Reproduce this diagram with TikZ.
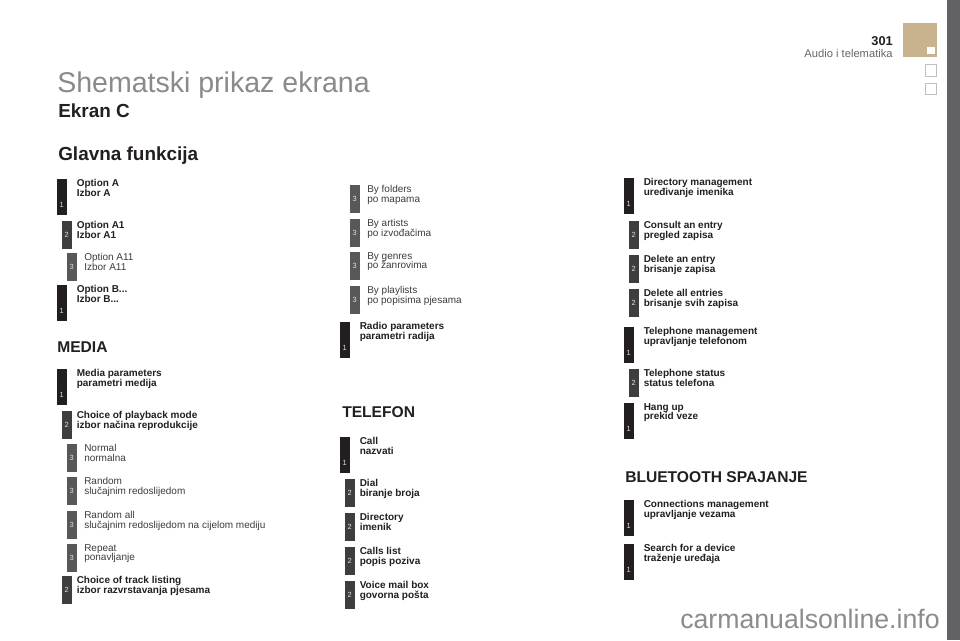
\documentclass[tikz,border=0pt]{standalone}
\usepackage{fontspec}
\setmainfont{Liberation Sans}
\definecolor{lone}{HTML}{231F20}
\definecolor{ltwo}{HTML}{3E3E40}
\definecolor{lthree}{HTML}{58585A}
\definecolor{txtdark}{HTML}{231F20}
\definecolor{txtgray}{HTML}{3C3C3E}
\definecolor{titlegray}{HTML}{8A8A8C}
\definecolor{tan}{HTML}{C8B38E}
\definecolor{sidebar}{HTML}{626264}
\tikzset{
  digit/.style={text=white!88!black, font=\fontsize{5.6}{6}\selectfont, inner sep=0pt},
  boldtxt/.style={text=txtdark, font=\fontsize{7.5}{7.35}\bfseries\selectfont, align=left, inner sep=0pt, anchor=north west},
  regtxt/.style={text=txtgray, font=\fontsize{7.5}{7.35}\selectfont, align=left, inner sep=0pt, anchor=north west},
  heading/.style={text=txtdark, font=\fontsize{11.7}{13}\bfseries\selectfont, inner sep=0pt, anchor=base west},
}
% #1 name, #2 x0, #3 top, #4 line 1, #5 line 2
\newcommand{\entA}[5]{%
  \fill[lone] (#2,#3) rectangle ++(9.5,36);
  \node[digit] (#1-d) at ({#2+4.75},{#3+26}) {1};
  \node[boldtxt] (#1) at ({#2+19.5},#3) {#4\\#5};
}
\newcommand{\entB}[5]{%
  \fill[ltwo] ({#2+5},#3) rectangle ++(9.5,27.5);
  \node[digit] (#1-d) at ({#2+9.75},{#3+14}) {2};
  \node[boldtxt] (#1) at ({#2+19.5},#3) {#4\\#5};
}
\newcommand{\entC}[5]{%
  \fill[lthree] ({#2+10},#3) rectangle ++(9.5,28);
  \node[digit] (#1-d) at ({#2+14.75},{#3+14}) {3};
  \node[regtxt] (#1) at ({#2+27},#3) {#4\\#5};
}
\begin{document}
\begin{tikzpicture}[x=0.75pt,y=-0.75pt]
\useasboundingbox (0,0) rectangle (960,640);
\fill[white] (0,0) rectangle (960,640);
% right side strip and page marks
\fill[sidebar] (947,0) rectangle (960,640);
\fill[tan] (903,23) rectangle (937,57);
\fill[white] (927,47) rectangle (935,54);
\draw[black!25, line width=0.6pt] (925.5,64.5) rectangle (936.5,76);
\draw[black!25, line width=0.6pt] (925.5,83) rectangle (936.5,94.5);
\node[anchor=base east, inner sep=0pt, font=\fontsize{9.6}{11}\bfseries\selectfont, text=txtdark] (pnum) at (893,45) {301};
\node[anchor=base east, inner sep=0pt, font=\fontsize{8.4}{10}\selectfont, text=black!60] (chap) at (893,57) {Audio i telematika};
% titles
\node[anchor=base west, inner sep=0pt, font=\fontsize{21.4}{24}\selectfont, text=titlegray] (title) at (57,92) {Shematski prikaz ekrana};
\node[anchor=base west, inner sep=0pt, font=\fontsize{14.2}{16}\bfseries\selectfont, text=txtdark] (ekran) at (58,117) {Ekran C};
\node[anchor=base west, inner sep=0pt, font=\fontsize{14.2}{16}\bfseries\selectfont, text=txtdark] (glavna) at (58,160) {Glavna funkcija};
% left column
\entA{oa}{57}{179}{Option A}{Izbor A}
\entB{oa1}{57}{221}{Option A1}{Izbor A1}
\entC{oa11}{57}{253}{Option A11}{Izbor A11}
\entA{ob}{57}{285}{Option B...}{Izbor B...}
\node[heading] (media) at (57,352) {MEDIA};
\entA{mp}{57}{369}{Media parameters}{parametri medija}
\entB{pm}{57}{411}{Choice of playback mode}{izbor načina reprodukcije}
\entC{nor}{57}{444}{Normal}{normalna}
\entC{rnd}{57}{477}{Random}{slučajnim redoslijedom}
\entC{rnda}{57}{511}{Random all}{slučajnim redoslijedom na cijelom mediju}
\entC{rep}{57}{544}{Repeat}{ponavljanje}
\entB{tl}{57}{576}{Choice of track listing}{izbor razvrstavanja pjesama}
% middle column
\entC{fold}{340}{185}{By folders}{po mapama}
\entC{art}{340}{219}{By artists}{po izvođačima}
\entC{gen}{340}{252}{By genres}{po žanrovima}
\entC{pl}{340}{286}{By playlists}{po popisima pjesama}
\entA{rp}{340}{322}{Radio parameters}{parametri radija}
\node[heading] (tel) at (342,417) {TELEFON};
\entA{call}{340}{437}{Call}{nazvati}
\entB{dial}{340}{479}{Dial}{biranje broja}
\entB{dir}{340}{513}{Directory}{imenik}
\entB{cl}{340}{547}{Calls list}{popis poziva}
\entB{vm}{340}{581}{Voice mail box}{govorna pošta}
% right column
\entA{dm}{624}{178}{Directory management}{uređivanje imenika}
\entB{ce}{624}{221}{Consult an entry}{pregled zapisa}
\entB{de}{624}{255}{Delete an entry}{brisanje zapisa}
\entB{dae}{624}{289}{Delete all entries}{brisanje svih zapisa}
\entA{tm}{624}{327}{Telephone management}{upravljanje telefonom}
\entB{ts}{624}{369}{Telephone status}{status telefona}
\entA{hu}{624}{403}{Hang up}{prekid veze}
\node[heading] (bt) at (625,482) {BLUETOOTH SPAJANJE};
\entA{cm}{624}{500}{Connections management}{upravljanje vezama}
\entA{sd}{624}{544}{Search for a device}{traženje uređaja}
% watermark
\node[anchor=base west, inner sep=0pt, font=\fontsize{20}{22}\selectfont, text=black!45] (wm) at (680,628) {carmanualsonline.info};
\end{tikzpicture}
\end{document}
